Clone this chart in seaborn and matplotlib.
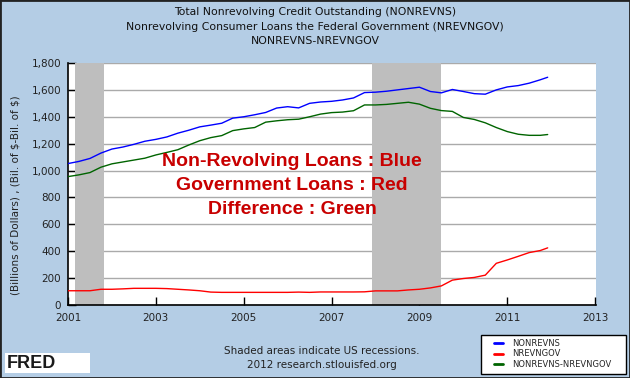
import numpy as np
import pandas as pd
import matplotlib.pyplot as plt
import matplotlib.patches as mpatches
from matplotlib.lines import Line2D
from matplotlib.ticker import FuncFormatter
import seaborn as sns

sns.set_theme(style="white")
plt.rcParams['font.family'] = ['DejaVu Sans']

# quarterly points, last one = Dec 2011
dates = [2001.00, 2001.25, 2001.50, 2001.75, 2002.00, 2002.25, 2002.50, 2002.75,
         2003.00, 2003.25, 2003.50, 2003.75, 2004.00, 2004.25, 2004.50, 2004.75,
         2005.00, 2005.25, 2005.50, 2005.75, 2006.00, 2006.25, 2006.50, 2006.75,
         2007.00, 2007.25, 2007.50, 2007.75, 2008.00, 2008.25, 2008.50, 2008.75,
         2009.00, 2009.25, 2009.50, 2009.75, 2010.00, 2010.25, 2010.50, 2010.75,
         2011.00, 2011.25, 2011.50, 2011.75, 2011.92]

nonrevns = [1052, 1068, 1090, 1130, 1160, 1175, 1195, 1218,
            1232, 1250, 1278, 1300, 1325, 1338, 1352, 1390,
            1400, 1415, 1432, 1465, 1475, 1466, 1500, 1510,
            1515, 1525, 1540, 1580, 1583, 1590, 1600, 1610,
            1620, 1588, 1578, 1603, 1588, 1572, 1568, 1600,
            1622, 1632, 1650, 1675, 1694]

nrevngov = [106, 106, 106, 117, 117, 120, 124, 124,
            124, 122, 117, 112, 106, 96, 94, 94,
            94, 94, 94, 94, 94, 96, 94, 97,
            97, 97, 97, 98, 105, 105, 105, 112,
            117, 127, 142, 185, 197, 205, 222, 310,
            335, 362, 390, 405, 425]

difference = [955, 968, 985, 1025, 1050, 1064, 1078, 1092,
              1116, 1135, 1155, 1190, 1222, 1245, 1260, 1297,
              1310, 1320, 1360, 1370, 1378, 1382, 1400, 1420,
              1431, 1435, 1445, 1488, 1488, 1492, 1500, 1508,
              1494, 1463, 1446, 1440, 1395, 1380, 1355, 1320,
              1290, 1270, 1262, 1262, 1268]

series_names = ["NONREVNS", "NREVNGOV", "NONREVNS-NREVNGOV"]
series_colors = ["#0000FF", "#FF0000", "#006400"]

recession_start = [2001.17, 2007.92]
recession_end = [2001.83, 2009.50]

x_ticks = [2001, 2003, 2005, 2007, 2009, 2011, 2013]
y_ticks = [0, 200, 400, 600, 800, 1000, 1200, 1400, 1600, 1800]

titles = ["Total Nonrevolving Credit Outstanding (NONREVNS)",
          "Nonrevolving Consumer Loans the Federal Government (NREVNGOV)",
          "NONREVNS-NREVNGOV"]
notes = ["Non-Revolving Loans : Blue", "Government Loans : Red", "Difference : Green"]

df = pd.DataFrame({
    "date": dates * 3,
    "value": nonrevns + nrevngov + difference,
    "series": [series_names[0]] * len(dates) + [series_names[1]] * len(dates)
              + [series_names[2]] * len(dates),
})

bg = "#B4CDE5"
fig = plt.figure(figsize=(6.3, 3.78), dpi=100)
fig.patch.set_facecolor(bg)

ax = fig.add_axes([68 / 630, 1 - 305 / 378, (596 - 68) / 630, (305 - 63) / 378])
ax.set_facecolor("white")
ax.set_axisbelow(True)
ax.yaxis.grid(True, color="#AAAAAA", linewidth=1)

for s, e in zip(recession_start, recession_end):
    ax.axvspan(s, e, color="#BEBEBE", lw=0, zorder=1)

sns.lineplot(data=df, x="date", y="value", hue="series", palette=series_colors,
             hue_order=series_names, linewidth=1, legend=False, ax=ax, zorder=3)

ax.set_xlim(2001, 2013.02)
ax.set_ylim(0, 1800)
ax.set_xticks(x_ticks)
ax.set_yticks(y_ticks)
ax.yaxis.set_major_formatter(FuncFormatter(lambda v, p: f"{int(v):,}"))
ax.tick_params(direction="in", length=6, width=1, colors="black",
               labelsize=7.5, labelcolor="#222222", left=True, bottom=True)
ax.tick_params(axis="x", pad=6)
ax.tick_params(axis="y", pad=5)
for side in ["top", "right"]:
    ax.spines[side].set_visible(False)
for side in ["left", "bottom"]:
    ax.spines[side].set_color("black")
    ax.spines[side].set_linewidth(1.2)
ax.set_xlabel("")
ax.set_ylabel(r"(Billions of Dollars) , (Bil. of \$-Bil. of \$)", fontsize=7.5,
              color="#222222")
ax.yaxis.set_label_coords(-0.09, 0.455)

# titles
for i, t in enumerate(titles):
    fig.text(0.5, 1 - (12 + 14.5 * i) / 378, t, ha="center", va="center",
             fontsize=7.8, color="#111111")

# red annotation
for i, t in enumerate(notes):
    ax.text(292 / 630, 1 - (162 + 23.5 * i) / 378, t, transform=fig.transFigure,
            ha="center", va="center", fontsize=14, fontweight="bold",
            color="#C80000", family=["Liberation Sans", "DejaVu Sans"], zorder=4)

# footer
fig.text(322 / 630, 1 - 351 / 378, "Shaded areas indicate US recessions.",
         ha="center", va="center", fontsize=7.5, color="#222222")
fig.text(322 / 630, 1 - 365 / 378, "2012 research.stlouisfed.org",
         ha="center", va="center", fontsize=7.5, color="#222222")

# legend box
fig.patches.append(mpatches.Rectangle((481 / 630, 1 - 374 / 378), 145 / 630, 39 / 378,
                                      transform=fig.transFigure, facecolor="white",
                                      edgecolor="black", lw=1))
handles = [Line2D([0], [0], color=c, lw=2) for c in series_colors]
leg = fig.legend(handles, series_names, loc="upper left",
                 bbox_to_anchor=(487 / 630, 1 - 332 / 378), fontsize=6,
                 frameon=False, handlelength=1.1, handletextpad=1.1,
                 borderpad=0.3, labelspacing=0.22)

# FRED logo
fig.patches.append(mpatches.Rectangle((5 / 630, 1 - 373 / 378), 85 / 630, 20 / 378,
                                      transform=fig.transFigure, facecolor="white",
                                      edgecolor="none"))
fig.text(7 / 630, 1 - 363 / 378, "FRED", ha="left", va="center", fontsize=13,
         fontweight="bold", color="#1A1A1A", family=["Liberation Sans", "DejaVu Sans"])

# outer border
fig.patches.append(mpatches.Rectangle((0, 0), 1, 1, transform=fig.transFigure,
                                      facecolor="none", edgecolor="#222222", lw=2))

fig.savefig("out.png", dpi=100, facecolor=bg)
